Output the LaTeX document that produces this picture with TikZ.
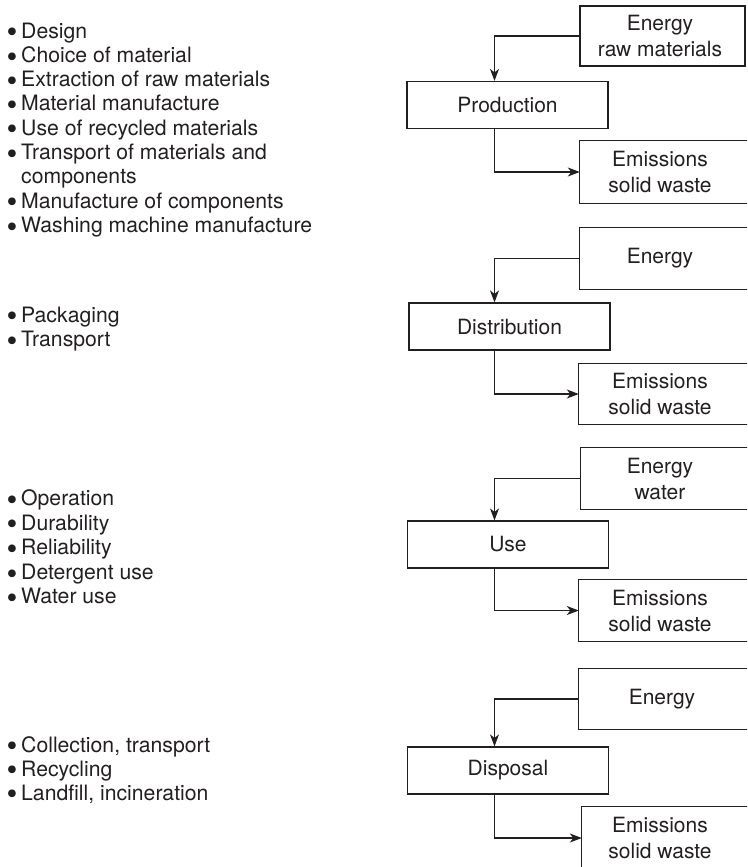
\documentclass[tikz,border=0pt]{standalone}
\usepackage{fontspec}
\setmainfont{TeX Gyre Heros}
\usetikzlibrary{arrows.meta}
\definecolor{ink}{RGB}{35,31,32}
\newcommand{\bul}{\makebox[14.5pt][l]{\raisebox{\dimexpr 9.8pt-\height\relax}[0pt][0pt]{\fontsize{31}{24}\selectfont •}}}
\begin{document}
\begin{tikzpicture}[x=1pt,y=1pt,
  every node/.style={text=ink},
  item/.style={anchor=base west, inner sep=0, font=\fontsize{21.2}{24}\selectfont},
  pbox/.style={draw=ink, line width=1.2pt, minimum width=201pt, minimum height=47pt, inner sep=0, font=\fontsize{21}{24}\selectfont},
  rbox/.style={inner sep=0},
  frame/.style={draw=ink, line width=1.2pt},
  btext/.style={align=center, inner sep=0, font=\fontsize{21}{26}\selectfont},
  arr/.style={draw=ink, line width=1.2pt, -{Stealth[length=12pt,width=9pt,inset=3.5pt]}}]
\useasboundingbox (0,0) rectangle (747,-867);
\clip (0,0) rectangle (747,-867);

% left lists
\foreach \t [count=\i] in {Design,Choice of material,Extraction of raw materials,Material manufacture,Use of recycled materials,Transport of materials and}
  \node[item] (ga\i) at (6.5,{-38-24.3*(\i-1)}) {\bul\t};
\node[item] (ga7) at (6.5,{-38-24.3*6}) {\hspace{14.5pt}components};
\node[item] (ga8) at (6.5,{-38-24.3*7}) {\bul Manufacture of components};
\node[item] (ga9) at (6.5,{-38-24.3*8}) {\bul Washing machine manufacture};

\node[item] (gb1) at (6.5,-322) {\bul Packaging};
\node[item] (gb2) at (6.5,-346.5) {\bul Transport};

\foreach \t [count=\i] in {Operation,Durability,Reliability,Detergent use,Water use}
  \node[item] (gc\i) at (6.5,{-505.5-24.6*(\i-1)}) {\bul\t};

\node[item] (gd1) at (6.5,-752) {\bul Collection, transport};
\node[item] (gd2) at (6.5,-776) {\bul Recycling};
\node[item] (gd3) at (6.5,-800) {\bul Landfill, incineration};

% process boxes
\node[pbox] (P) at (507.5,-105) {Production};
\node[pbox] (D) at (509.5,-326.5) {Distribution};
\node[pbox] (U) at (508,-544.5) {Use};
\node[pbox] (X) at (508,-770.5) {Disposal};

% right boxes (run past the right edge, except the first)
\node[rbox, draw=ink, line width=1.2pt, minimum width=165pt, minimum height=60pt] (E1) at (662.5,-36) {};
\node[rbox, minimum width=185pt, minimum height=62pt] (W1) at (672.5,-172) {};
\node[rbox, minimum width=185pt, minimum height=61pt] (E2) at (672.5,-258.5) {};
\node[rbox, minimum width=186pt, minimum height=60pt] (W2) at (672,-394) {};
\node[rbox, minimum width=184pt, minimum height=61pt] (E3) at (673,-478.5) {};
\node[rbox, minimum width=186pt, minimum height=61pt] (W3) at (672,-610.5) {};
\node[rbox, minimum width=186pt, minimum height=60pt] (E4) at (672,-699) {};
\node[rbox, minimum width=183pt, minimum height=73pt] (W4) at (673.5,-843.5) {};
\foreach \b in {W1,E2,W2,E3,W3,E4,W4}
  \draw[frame] (\b.north east) -- (\b.north west) -- (\b.south west) -- (\b.south east);

\node[btext] (E1t) at (660,-36) {Energy\\raw materials};
\node[btext] (W1t) at (660,-172) {Emissions\\solid waste};
\node[btext] (E2t) at (660,-258.5) {Energy};
\node[btext] (W2t) at (660,-394) {Emissions\\solid waste};
\node[btext] (E3t) at (660,-478.5) {Energy\\water};
\node[btext] (W3t) at (660,-610.5) {Emissions\\solid waste};
\node[btext] (E4t) at (662,-699) {Energy};
\node[btext] (W4t) at (660,-838) {Emissions\\solid waste};

% connectors
\coordinate (ax) at (494.5,0);
\draw[arr] (E1.west) -| (P.north -| ax);
\draw[arr] (P.south -| ax) |- (W1.west);
\draw[arr] (E2.west) -| (D.north -| ax);
\draw[arr] (D.south -| ax) |- (W2.west);
\draw[arr] (E3.west) -| (U.north -| ax);
\draw[arr] (U.south -| ax) |- (W3.west);
\draw[arr] (E4.west) -| (X.north -| ax);
\draw[arr] (X.south -| ax) |- (W4.west |- W4t);
\end{tikzpicture}
\end{document}
